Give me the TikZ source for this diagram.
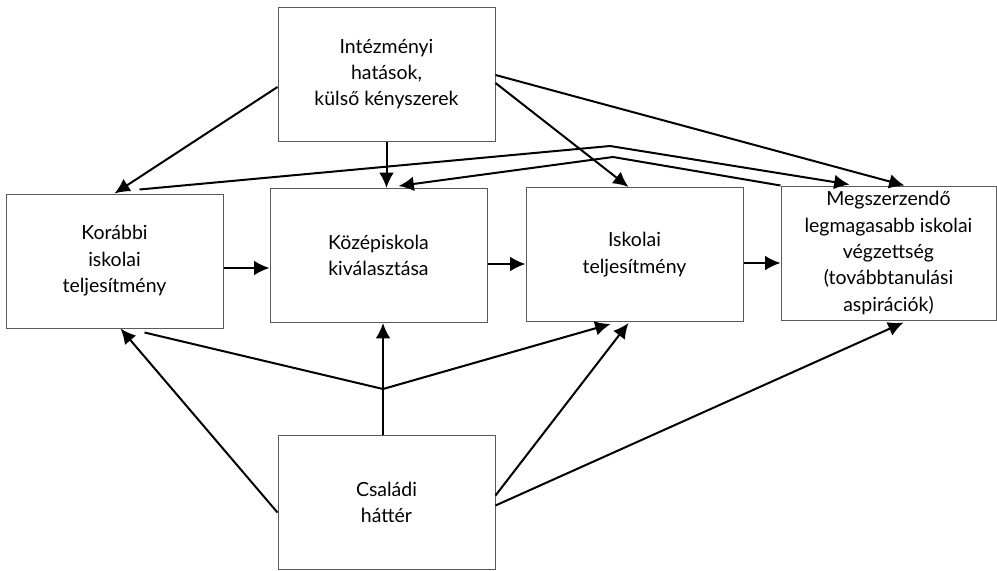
\documentclass[tikz,border=0pt]{standalone}
\usepackage{fontspec}
\setmainfont{Lato}
\usetikzlibrary{arrows.meta,calc}

\tikzset{every picture/.style={line width=0.75pt}}
\tikzset{
  doboz/.style={draw=black!65, line width=0.75pt, align=center, inner sep=0pt,
    minimum width=162.75pt, minimum height=100.5pt,
    font=\fontsize{14.6}{19.8}\selectfont},
  nyil/.style={line width=1.5pt, -{Latex[length=11.5pt,width=11pt]}},
  vonal/.style={line width=1.5pt}
}

\begin{document}
\begin{tikzpicture}[x=0.75pt,y=0.75pt,yscale=-1,xscale=1]
\useasboundingbox (0,0) rectangle (997,571);

% Boxes
\node[doboz] (intez) at (386.5,74) {Intézményi\\hatások,\\külső kényszerek};
\node[doboz] (korabbi) at (114.5,261) {Korábbi\\iskolai\\teljesítmény};
\node[doboz] (kozep) at (378.5,255.5) {Középiskola\\kiválasztása};
\node[doboz] (iskolai) at (634.5,254.5) {Iskolai\\teljesítmény};
\node[doboz, minimum width=161.25pt] (megsz) at (888.5,253) {Megszerzendő\\legmagasabb iskolai\\végzettség\\(továbbtanulási\\aspirációk)};
\node[doboz] (csalad) at (386.5,502.5) {Családi\\háttér};

% bend points
\coordinate (tores1) at (610,146);
\coordinate (tores2) at (613,157);
\coordinate (elagazas) at (383,389);

% Arrows from the top box
\draw[nyil] ($(intez.west)+(0,13)$) -- (korabbi.north);
\draw[nyil] ($(intez.south)+(0,0)$) -- (intez.south |- kozep.north);
\draw[nyil] ($(intez.east)+(0,9)$) -- ($(iskolai.north)+(-6,0)$);
\draw[nyil] ($(intez.east)+(0,1)$) -- ($(megsz.north)+(16,0)$);

% Arrows over the top
\draw[nyil] ($(korabbi.north)+(25,-4)$) -- (tores1) -- ($(megsz.north)+(-39,-1)$);
\draw[nyil] (megsz.north west) -- (tores2) -- ($(kozep.north)+(20,-2)$);

% Horizontal arrows
\draw[nyil] ($(korabbi.east)+(0,7)$) -- ($(kozep.west)+(0,12.5)$);
\draw[nyil] ($(kozep.east)+(0,8.5)$) -- ($(iskolai.west)+(0,9.5)$);
\draw[nyil] ($(iskolai.east)+(0,8.5)$) -- ($(megsz.west)+(0,10)$);

% Arrows from the bottom box
\draw[nyil] ($(csalad.west)+(0,10)$) -- ($(korabbi.south)+(6,0)$);
\draw[vonal] ($(csalad.north)+(-3.5,0)$) -- (elagazas);
\draw[nyil] (elagazas) -- (elagazas |- kozep.south);
\draw[vonal] (elagazas) -- ($(korabbi.south)+(30,4)$);
\draw[nyil] (elagazas) -- ($(iskolai.south)+(-24,2)$);
\draw[nyil] ($(csalad.east)+(0,-7)$) -- ($(iskolai.south)+(-6,1)$);
\draw[nyil] ($(csalad.east)+(0,3)$) -- ($(megsz.south)+(15,2)$);

\end{tikzpicture}
\end{document}
